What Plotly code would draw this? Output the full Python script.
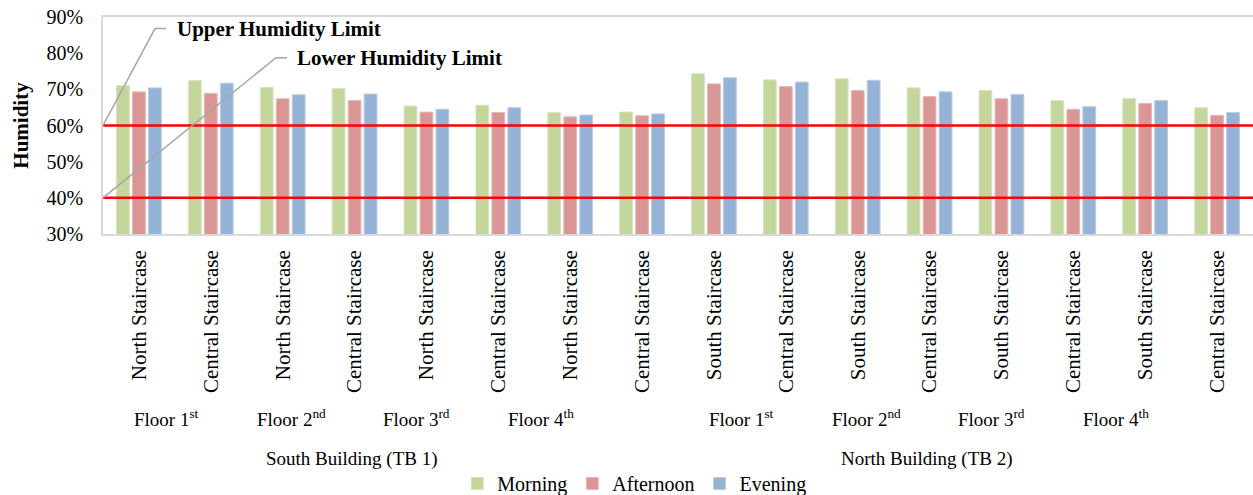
import plotly.graph_objects as go

# Measurement locations (two staircases per floor, four floors per building)
staircases = [
    "North Staircase", "Central Staircase", "North Staircase", "Central Staircase",
    "North Staircase", "Central Staircase", "North Staircase", "Central Staircase",
    "South Staircase", "Central Staircase", "South Staircase", "Central Staircase",
    "South Staircase", "Central Staircase", "South Staircase", "Central Staircase",
]
floors = ["Floor 1<sup>st</sup>", "Floor 2<sup>nd</sup>", "Floor 3<sup>rd</sup>", "Floor 4<sup>th</sup>"]
buildings = ["South Building (TB 1)", "North Building (TB 2)"]

# Relative humidity (%) by time of day
morning = [71.0, 72.4, 70.5, 70.2, 65.4, 65.6, 63.6, 63.7,
           74.3, 72.6, 72.9, 70.4, 69.7, 66.9, 67.5, 64.9]
afternoon = [69.3, 68.9, 67.4, 66.9, 63.7, 63.6, 62.4, 62.7,
             71.5, 70.8, 69.7, 68.0, 67.4, 64.5, 66.1, 62.8]
evening = [70.4, 71.7, 68.5, 68.7, 64.5, 64.9, 62.9, 63.2,
           73.2, 72.0, 72.5, 69.3, 68.6, 65.2, 66.9, 63.6]

upper_limit = 60
lower_limit = 40

FONT = "Liberation Serif"
x = list(range(len(staircases)))

fig = go.Figure()
series = [
    ("Morning", morning, "#C3D69B", "#D7E4BD"),
    ("Afternoon", afternoon, "#D99694", "#E6B9B8"),
    ("Evening", evening, "#95B3D7", "#B9CDE5"),
]
for name, vals, color, edge in series:
    fig.add_trace(go.Bar(
        x=x, y=vals, name=name,
        marker=dict(color=color, line=dict(color=edge, width=1)),
    ))

# Humidity limit lines
for lim in (upper_limit, lower_limit):
    fig.add_shape(type="line", xref="paper", yref="y", x0=0, x1=1, y0=lim, y1=lim,
                  line=dict(color="#FF0000", width=2.5), layer="above")

# Leader lines to the limit labels
fig.add_shape(type="path", xref="paper", yref="y",
              path=f"M 0,{upper_limit} L 0.0452,86.8 L 0.0548,86.8",
              line=dict(color="#A6A6A6", width=1.5))
fig.add_shape(type="path", xref="paper", yref="y",
              path=f"M 0,{lower_limit} L 0.1504,78.75 L 0.16,78.75",
              line=dict(color="#A6A6A6", width=1.5))
fig.add_annotation(text="<b>Upper Humidity Limit</b>", xref="paper", yref="y",
                   x=0.0626, y=86.8, xanchor="left", yanchor="middle", showarrow=False,
                   font=dict(family=FONT, size=21, color="black"))
fig.add_annotation(text="<b>Lower Humidity Limit</b>", xref="paper", yref="y",
                   x=0.167, y=78.75, xanchor="left", yanchor="middle", showarrow=False,
                   font=dict(family=FONT, size=21, color="black"))

# Floor and building group labels under the staircase labels
for b in range(2):
    for i, fl in enumerate(floors):
        fig.add_annotation(text=fl, xref="x", yref="paper",
                           x=b * 8 + 0.38 + i * 1.74, y=-0.85,
                           xanchor="center", yanchor="middle", showarrow=False,
                           font=dict(family=FONT, size=19, color="black"))
    fig.add_annotation(text=buildings[b], xref="x", yref="paper",
                       x=b * 8 + 2.97, y=-1.036,
                       xanchor="center", yanchor="middle", showarrow=False,
                       font=dict(family=FONT, size=19, color="black"))

fig.update_layout(
    width=1253, height=495,
    margin=dict(l=103, r=0, t=17, b=261, autoexpand=False),
    plot_bgcolor="white", paper_bgcolor="white",
    barmode="group", bargap=0.333, bargroupgap=0.2,
    font=dict(family=FONT, color="black"),
    showlegend=True,
    legend=dict(orientation="h", x=0.462, xanchor="center", y=-1.15, yanchor="middle",
                font=dict(family=FONT, size=20, color="black"),
                itemwidth=30, traceorder="normal"),
    xaxis=dict(
        range=[-0.5, len(staircases) - 0.5],
        tickmode="array", tickvals=x, ticktext=staircases, tickangle=-90,
        tickfont=dict(family=FONT, size=21, color="black"),
        ticklabelstandoff=6, automargin=False,
        showline=True, linecolor="#D9D9D9", linewidth=1.5, mirror=True,
        showgrid=False, zeroline=False, ticks="",
    ),
    yaxis=dict(
        range=[30, 90], dtick=10, ticksuffix="%",
        tickfont=dict(family=FONT, size=20, color="black"),
        ticklabelstandoff=14,
        showline=True, linecolor="#D9D9D9", linewidth=1.5, mirror=True,
        showgrid=False, zeroline=False, ticks="", automargin=False,
        title=dict(text="<b>Humidity</b>", font=dict(family=FONT, size=21, color="black"),
                   standoff=12),
    ),
)

fig.write_html("out.html")
